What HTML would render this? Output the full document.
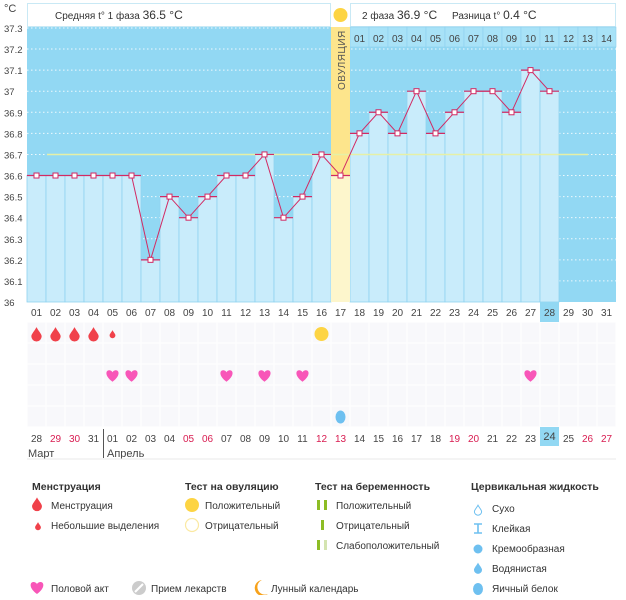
<!DOCTYPE html>
<html><head><meta charset="utf-8">
<style>
body{margin:0;background:#fff;width:626px;height:595px;overflow:hidden;font-family:"Liberation Sans",sans-serif}
svg text{font-family:"Liberation Sans","DejaVu Sans",sans-serif}
</style></head><body>
<svg id="s" width="626" height="595" xmlns="http://www.w3.org/2000/svg"></svg>
<script>
const S=document.getElementById('s');let h='';
const X0=27,W=19,Y0=302,K=210.8;
const y=t=>Y0-(t-36)*K;
const cx=i=>X0+i*W+9.5;
const T=[36.6,36.6,36.6,36.6,36.6,36.6,36.2,36.5,36.4,36.5,36.6,36.6,36.7,36.4,36.5,36.7,36.6,36.8,36.9,36.8,37.0,36.8,36.9,37.0,37.0,36.9,37.1,37.0];
h+=`<rect x="${X0}" y="27" width="589" height="275" fill="#92d8f3"/>`;
h+=`<rect x="${X0}.5" y="3.5" width="303" height="23" fill="#fff" stroke="#c9e9f5"/>`;
h+=`<rect x="350.5" y="3.5" width="265" height="23" fill="#fff" stroke="#c9e9f5"/>`;
h+=`<text x="55" y="19" font-size="10" fill="#333">Средняя t° 1 фаза <tspan font-size="12">36.5 °C</tspan></text>`;
h+=`<text x="362" y="19" font-size="10" fill="#333">2 фаза <tspan font-size="12">36.9 °C</tspan></text>`;
h+=`<text x="452" y="19" font-size="10" fill="#333">Разница t° <tspan font-size="12">0.4 °C</tspan></text>`;
h+=`<circle cx="340.5" cy="15" r="7" fill="#fdd443"/>`;
for(let k=1;k<=13;k++){let yy=y(36+k/10);h+=`<line x1="${X0}" x2="616" y1="${yy}" y2="${yy}" stroke="#fff" stroke-dasharray="1.5,2.5" stroke-width="1" opacity="0.85"/>`;}
for(let i=17;i<31;i++){h+=`<rect x="${X0+i*W}" y="27" width="${W}" height="20" fill="#a8e2f7" stroke="#8dd0ee" stroke-width="0.6"/>`;h+=`<text x="${cx(i)}" y="42" font-size="10" fill="#444" text-anchor="middle">${String(i-16).padStart(2,'0')}</text>`;}
T.forEach((t,i)=>{if(i==16)return;h+=`<rect x="${X0+i*W}" y="${y(t)}" width="${W}" height="${Y0-y(t)}" fill="#c9ecfb" stroke="#90d2ef" stroke-width="0.8"/>`;});
h+=`<rect x="${X0+16*W}" y="27" width="${W}" height="${y(36.6)-27}" fill="#fde58c"/>`;
h+=`<rect x="${X0+16*W}" y="${y(36.6)}" width="${W}" height="${Y0-y(36.6)}" fill="#fdf6cc"/>`;
h+=`<text transform="translate(345,90) rotate(-90)" font-size="10" fill="#555" letter-spacing="0.5">ОВУЛЯЦИЯ</text>`;
h+=`<line x1="47" x2="588" y1="${y(36.7)}" y2="${y(36.7)}" stroke="#e6f0a6" stroke-width="1.5"/>`;
let pts=T.map((t,i)=>`${cx(i)},${y(t)}`).join(' ');
T.forEach((t,i)=>{h+=`<line x1="${X0+i*W}" x2="${X0+i*W+W}" y1="${y(t)}" y2="${y(t)}" stroke="#d22a63" stroke-width="1.2"/>`;});
h+=`<polyline points="${pts}" fill="none" stroke="#d22a63" stroke-width="1"/>`;
T.forEach((t,i)=>{h+=`<rect x="${cx(i)-2.5}" y="${y(t)-2.5}" width="5" height="5" fill="#fff" stroke="#d22a63" stroke-width="1"/>`;});
h+=`<text x="4" y="12" font-size="11" fill="#444">°C</text>`;
const yl=['37.3','37.2','37.1','37','36.9','36.8','36.7','36.6','36.5','36.4','36.3','36.2','36.1','36'];
yl.forEach((l,k)=>{h+=`<text x="4" y="${y(37.3-k/10)+4}" font-size="9.5" fill="#444">${l}</text>`;});
h+=`<rect x="${X0}" y="322" width="589" height="105" fill="#f8f8fb"/>`;
for(let i=0;i<=31;i++)h+=`<line x1="${X0+i*W}" x2="${X0+i*W}" y1="322" y2="427" stroke="#fff" stroke-width="1"/>`;
for(let r=0;r<=5;r++)h+=`<line x1="${X0}" x2="616" y1="${322+r*21}" y2="${322+r*21}" stroke="#fff" stroke-width="1"/>`;
h+=`<rect x="${X0+27*W}" y="302" width="${W}" height="20" fill="#92d8f3"/>`;
h+=`<rect x="${X0+27*W}" y="427" width="${W}" height="19" fill="#92d8f3"/>`;
for(let i=0;i<31;i++)h+=`<text x="${cx(i)}" y="316" font-size="10" fill="#444" text-anchor="middle">${String(i+1).padStart(2,'0')}</text>`;
const bd=[28,29,30,31,1,2,3,4,5,6,7,8,9,10,11,12,13,14,15,16,17,18,19,20,21,22,23,24,25,26,27];
const red=new Set([1,2,8,9,15,16,22,23,29,30]);
bd.forEach((d,i)=>{h+=`<text x="${cx(i)}" y="${i==27?440:442}" font-size="${i==27?11:10}" fill="${red.has(i)?'#d81b50':'#444'}" text-anchor="middle">${String(d).padStart(2,'0')}</text>`;});
h+=`<line x1="103.5" x2="103.5" y1="429" y2="458" stroke="#555"/>`;
h+=`<text x="28" y="457" font-size="11" fill="#444">Март</text><text x="107" y="457" font-size="11" fill="#444">Апрель</text>`;
h+=`<line x1="${X0}" x2="616" y1="459" y2="459" stroke="#e8e8e8"/>`;
const drop=(x,yc,s,c)=>`<path d="M${x},${yc-6*s} C${x+1.5*s},${yc-3*s} ${x+4.5*s},${yc} ${x+4.5*s},${yc+2*s} A${4.5*s},${4.5*s} 0 0 1 ${x-4.5*s},${yc+2*s} C${x-4.5*s},${yc} ${x-1.5*s},${yc-3*s} ${x},${yc-6*s}Z" fill="${c}"/>`;
for(let i=0;i<4;i++)h+=drop(cx(i),334,1.15,'#f0414a');
h+=drop(cx(4),334,0.65,'#f0414a');
h+=`<circle cx="${cx(15)}" cy="334" r="7" fill="#fdd443"/>`;
const heart=(x,yc,s,c)=>`<path d="M${x},${yc+5*s} C${x-7*s},${yc} ${x-6*s},${yc-5*s} ${x-3*s},${yc-5*s} C${x-1.5*s},${yc-5*s} ${x},${yc-4*s} ${x},${yc-3*s} C${x},${yc-4*s} ${x+1.5*s},${yc-5*s} ${x+3*s},${yc-5*s} C${x+6*s},${yc-5*s} ${x+7*s},${yc} ${x},${yc+5*s}Z" fill="${c}"/>`;
[4,5,10,12,14,26].forEach(i=>h+=heart(cx(i),376,1.15,'#f856b8'));
h+=`<ellipse cx="${cx(16)}" cy="417" rx="5" ry="6.5" fill="#6ec0f0"/>`;
const tx=(x,yy,s,b)=>`<text x="${x}" y="${yy}" font-size="${b?10.5:10}" fill="#333" ${b?'font-weight="bold"':''}>${s}</text>`;
h+=tx(32,490,'Менструация',1)+drop(37,504,1.1,'#f0414a')+tx(51,509,'Менструация')+drop(38,526,0.65,'#f0414a')+tx(51,529,'Небольшие выделения');
h+=tx(185,490,'Тест на овуляцию',1)+`<circle cx="192" cy="505" r="7" fill="#fdd443"/>`+tx(205,509,'Положительный')+`<circle cx="192" cy="525" r="6.5" fill="#fff" stroke="#fbe9a2" stroke-width="1.2"/>`+tx(205,529,'Отрицательный');
h+=tx(315,490,'Тест на беременность',1);
h+=`<rect x="317" y="500" width="3" height="10" fill="#8dbd25"/><rect x="324" y="500" width="3" height="10" fill="#8dbd25"/>`+tx(336,509,'Положительный');
h+=`<rect x="321" y="520" width="3" height="10" fill="#8dbd25"/>`+tx(336,529,'Отрицательный');
h+=`<rect x="317" y="540" width="3" height="10" fill="#8dbd25"/><rect x="324" y="540" width="3" height="10" fill="#d4e4b0"/>`+tx(336,549,'Слабоположительный');
h+=tx(471,490,'Цервикальная жидкость',1);
h+=drop(478,510,0.8,'#fff').replace('fill="#fff"','fill="#fff" stroke="#6ec0f0"')+tx(492,512,'Сухо');
h+=`<path d="M474,524h8M474,533h8M478,524v9" stroke="#6ec0f0" stroke-width="1.6"/>`+tx(492,532,'Клейкая');
h+=`<circle cx="478" cy="549" r="4.5" fill="#6ec0f0"/>`+tx(492,552,'Кремообразная');
h+=drop(478,568,0.9,'#6ec0f0')+tx(492,572,'Водянистая');
h+=`<ellipse cx="478" cy="589" rx="5" ry="6" fill="#6ec0f0"/>`+tx(492,592,'Яичный белок');
h+=heart(37,588,1.2,'#f856b8')+tx(51,592,'Половой акт');
h+=`<circle cx="139" cy="588" r="7" fill="#ccc"/><line x1="135" y1="592" x2="143" y2="584" stroke="#fff" stroke-width="2"/>`+tx(151,592,'Прием лекарств');
h+=`<path d="M262,580 A8,8 0 1 0 268,594 A7,7 0 0 1 262,580Z" fill="#f7a21b"/>`+tx(271,592,'Лунный календарь');
S.innerHTML=h;
</script>
</body></html>
